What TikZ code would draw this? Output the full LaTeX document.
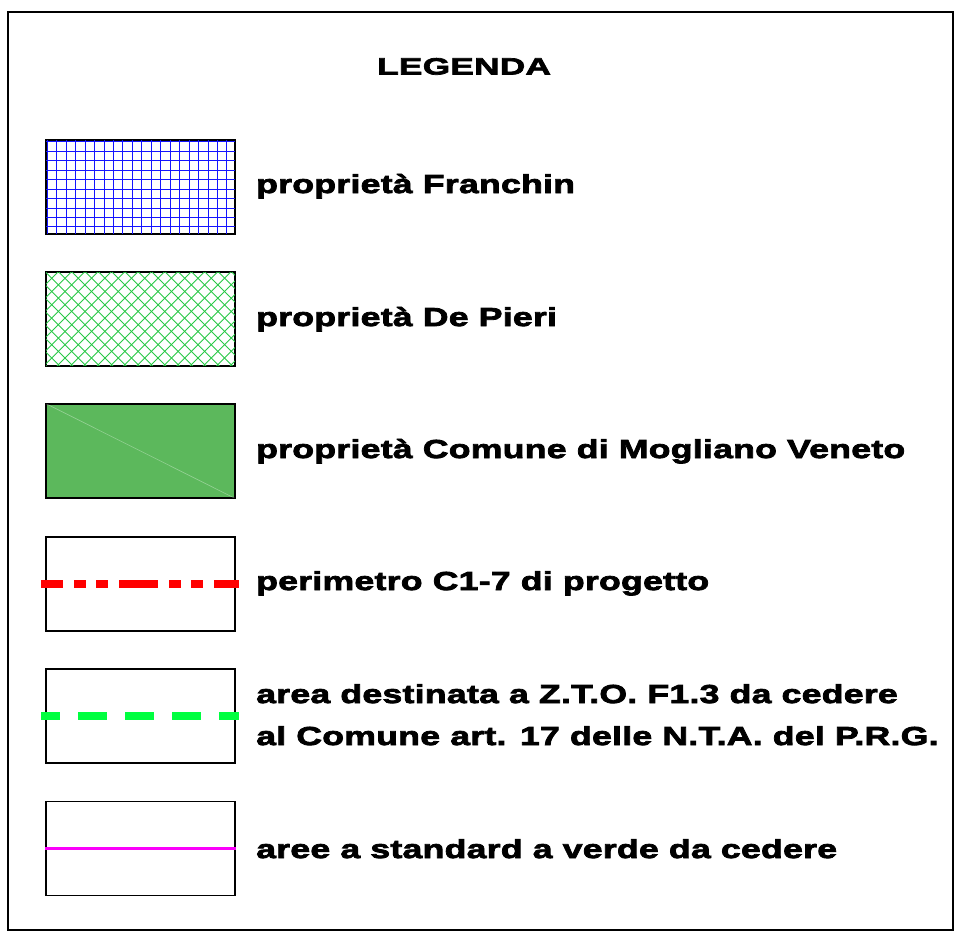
\documentclass[tikz,border=0pt]{standalone}
\usepackage{fontspec}
\newfontfamily\legfont[FakeStretch=1.37,FakeBold=3,LetterSpace=1]{Liberation Sans Bold}
\newfontfamily\titlefont[FakeStretch=1.5,FakeBold=3,LetterSpace=1]{Liberation Sans Bold}
\usetikzlibrary{positioning}
\usetikzlibrary{calc}

\definecolor{gridblue}{RGB}{20,20,255}
\definecolor{hatchgreen}{RGB}{40,200,70}
\definecolor{comunegreen}{RGB}{92,184,92}
\definecolor{perimred}{RGB}{255,0,0}
\definecolor{ztogreen}{RGB}{0,255,64}
\definecolor{verdemag}{RGB}{250,0,250}

\tikzset{
  legbox/.style={draw=black, line width=1.4pt, minimum width=189pt, minimum height=94pt, inner sep=0pt},
  legtext/.style={font=\legfont\fontsize{26}{30}\selectfont, anchor=base west, inner sep=0pt},
}

\begin{document}
\begin{tikzpicture}[x=1pt, y=-1pt]
  \useasboundingbox (0,0) rectangle (965,932);
  % cornice
  \draw[line width=2pt] (8,12) rectangle (953,930);

  \node[font=\titlefont\fontsize{23.5}{26}\selectfont, anchor=base west, inner sep=0pt] (titolo) at (377,74.5) {LEGENDA};

  % caselle
  \node[legbox] (franchin) at (140.5,187) {};
  \node[legbox] (depieri) at (140.5,319) {};
  \node[legbox, fill=comunegreen] (comune) at (140.5,451) {};
  \node[legbox] (perimetro) at (140.5,584) {};
  \node[legbox] (zto) at (140.5,716) {};
  \node[legbox] (verde) at (140.5,848.5) {};

  % retino quadrettato
  \begin{scope}
    \clip (franchin.south west) rectangle (franchin.north east);
    \draw[gridblue, line width=0.8pt, step=9.45pt] (franchin.north west) grid (franchin.south east);
  \end{scope}
  \draw[line width=1.4pt] (franchin.north west) rectangle (franchin.south east);

  % retino diagonale
  \begin{scope}
    \clip (depieri.south west) rectangle (depieri.north east);
    \foreach \k in {-12,...,34}
      \draw[hatchgreen, line width=0.9pt] ($(depieri.north west)+(\k*13.3,0)$) -- ++(-100,100)
        ($(depieri.north west)+(\k*13.3-200,0)$) -- ++(100,100);
  \end{scope}
  \draw[line width=1.4pt] (depieri.north west) rectangle (depieri.south east);

  \draw[white, opacity=0.35, line width=0.6pt] (comune.north west) -- (comune.south east);
  \draw[line width=1.4pt] (comune.north west) rectangle (comune.south east);

  % linee
  \draw[perimred, line width=8pt, dash pattern=on 39pt off 11pt on 12pt off 10pt on 12pt off 11pt, dash phase=17pt]
    ($(perimetro.west)+(-4,0)$) -- ($(perimetro.east)+(3,0)$);
  \draw[ztogreen, line width=8pt, dash pattern=on 29pt off 18pt, dash phase=10pt]
    ($(zto.west)+(-4,0)$) -- ($(zto.east)+(3,0)$);
  \draw[verdemag, line width=3pt] (verde.west) -- (verde.east);

  % testi
  \node[legtext] (tfranchin) at (256,193) {propriet\`a Franchin};
  \node[legtext] (tdepieri) at (256,326) {propriet\`a De Pieri};
  \node[legtext] (tcomune) at (256,458) {propriet\`a Comune di Mogliano Veneto};
  \node[legtext] (tperimetro) at (256,590) {perimetro C1-7 di progetto};
  \node[legtext] (tzto) at (256,703) {area destinata a Z.T.O. F1.3 da cedere};
  \node[legtext] (tzto2) at (256,745) {al Comune art. 17 delle N.T.A. del P.R.G.};
  \node[legtext] (tverde) at (256,858) {aree a standard a verde da cedere};
\end{tikzpicture}
\end{document}
